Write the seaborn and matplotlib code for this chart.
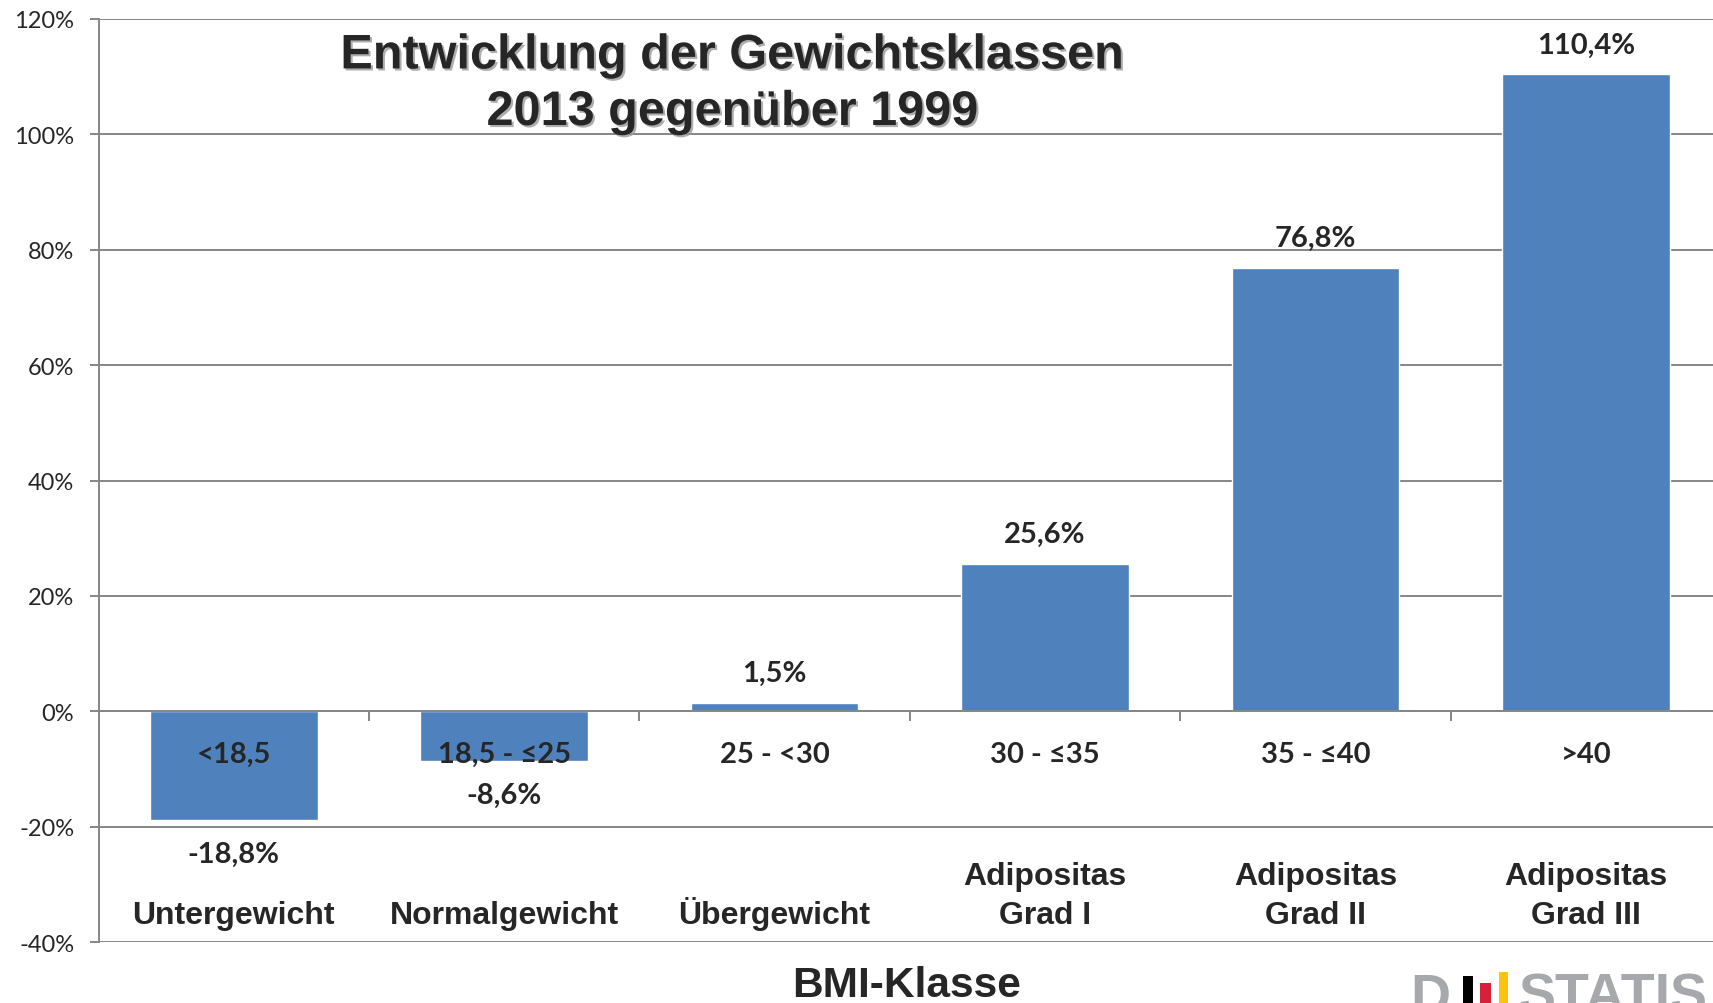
import matplotlib
matplotlib.use("Agg")
import matplotlib.pyplot as plt
import matplotlib.patheffects as pe
from matplotlib.patches import Rectangle
from matplotlib.ticker import FixedLocator, FuncFormatter
import seaborn as sns
import pandas as pd

# ---- data ----
categories = ["Untergewicht", "Normalgewicht", "Übergewicht",
              "Adipositas\nGrad I", "Adipositas\nGrad II", "Adipositas\nGrad III"]
bmi_ranges = ["<18,5", "18,5 - ≤25", "25 - <30", "30 - ≤35", "35 - ≤40", ">40"]
change_pct = [-18.8, -8.6, 1.5, 25.6, 76.8, 110.4]
y_ticks = [-40, -20, 0, 20, 40, 60, 80, 100, 120]
title_text = "Entwicklung der Gewichtsklassen\n2013 gegenüber 1999"
xlabel_text = "BMI-Klasse"

df = pd.DataFrame({"cat": categories, "val": change_pct})

sns.set_style("white")
plt.rcParams["font.family"] = ["Lato", "DejaVu Sans"]

W, H = 1713, 1004
fig = plt.figure(figsize=(W / 100, H / 100), dpi=100)
ax = fig.add_axes([98.5 / W, 61 / H, (1721 - 98.5) / W, (943 - 20) / H])

BLUE = "#4F81BD"
GRID = "#868686"

sns.barplot(data=df, x="cat", y="val", color=BLUE, saturation=1, width=0.62,
            ax=ax, zorder=3)

ax.set_xlim(-0.5, len(categories) - 0.5)
ax.set_ylim(y_ticks[0], y_ticks[-1])
ax.yaxis.set_major_locator(FixedLocator(y_ticks))
ax.yaxis.set_major_formatter(FuncFormatter(lambda v, p: f"{int(round(v))}%"))
ax.tick_params(axis="y", which="major", length=6.5, width=1.4, color=GRID,
               pad=11, labelsize=17, left=True, direction="out")
for lbl in ax.get_yticklabels():
    lbl.set_fontfamily(["Lato", "DejaVu Sans"])
ax.set_xticks([])
ax.set_xlabel("")
ax.set_ylabel("")
ax.grid(axis="y", color=GRID, linewidth=1.4, zorder=0)
ax.set_axisbelow(True)
for s in ["top", "right", "bottom"]:
    ax.spines[s].set_visible(False)
ax.spines["left"].set_color(GRID)
ax.spines["left"].set_linewidth(1.4)

# zero line + category separator ticks
ax.axhline(0, color=GRID, linewidth=1.4, zorder=4)
sep_len = 10 / ((943 - 20) / (y_ticks[-1] - y_ticks[0]))
for i in range(1, len(categories)):
    ax.plot([i - 0.5, i - 0.5], [0, -sep_len], color=GRID, linewidth=1.4,
            zorder=4, solid_capstyle="butt")

# value labels
for i, v in enumerate(change_pct):
    txt = f"{v:.1f}".replace(".", ",") + "%"
    off = 15.8 if v >= 0 else -30.5
    ax.annotate(txt, xy=(i, v), xytext=(0, off), textcoords="offset points",
                ha="center", va="baseline", fontsize=21, fontweight="bold",
                family=["Lato", "DejaVu Sans"], zorder=6)

# BMI range labels
for i, r in enumerate(bmi_ranges):
    ax.annotate(r, xy=(i, 0), xytext=(0, -36.7), textcoords="offset points",
                ha="center", va="baseline", fontsize=21, fontweight="bold",
                family=["Lato", "DejaVu Sans"], zorder=6)

# category labels
for i, c in enumerate(categories):
    ax.annotate(c, xy=(i, 0), xytext=(0, -157.7), textcoords="offset points",
                ha="center", va="bottom", fontsize=23, fontweight="bold",
                family=["Liberation Sans", "DejaVu Sans"], linespacing=1.4,
                multialignment="center", zorder=6)

# title
fig.text(732 / W, (H - 126) / H, title_text, ha="center", va="baseline",
         fontsize=35, fontweight="bold", family=["Liberation Sans", "DejaVu Sans"],
         linespacing=1.33, multialignment="center",
         path_effects=[pe.SimplePatchShadow(offset=(1.5, -1.5), shadow_rgbFace="#9a9a9a", alpha=0.8),
                       pe.Normal()])

# x axis title
fig.text(907 / W, (H - 997) / H, xlabel_text, ha="center", va="baseline",
         fontsize=30.5, fontweight="bold", family=["Liberation Sans", "DejaVu Sans"])

# Destatis logo (cut off at the bottom edge)
LOGO_GRAY = "#A6A8AB"
fig.text(1410 / W, (H - 1013) / H, "D", ha="left", va="baseline", fontsize=40,
         fontweight="bold", color=LOGO_GRAY, family=["Liberation Sans"])
fig.text(1518 / W, (H - 1013) / H, "STATIS", ha="left", va="baseline", fontsize=40,
         fontweight="bold", color=LOGO_GRAY, family=["Liberation Sans"])
for x0, x1, top, col in [(1463, 1473, 977, "#000000"),
                         (1480, 1491, 984, "#D7213A"),
                         (1499, 1508, 973, "#FFC20E")]:
    fig.patches.append(Rectangle((x0 / W, 0), (x1 - x0) / W, (H - top) / H,
                                 transform=fig.transFigure, facecolor=col,
                                 edgecolor="none", figure=fig))

fig.savefig("out.png", dpi=100)
